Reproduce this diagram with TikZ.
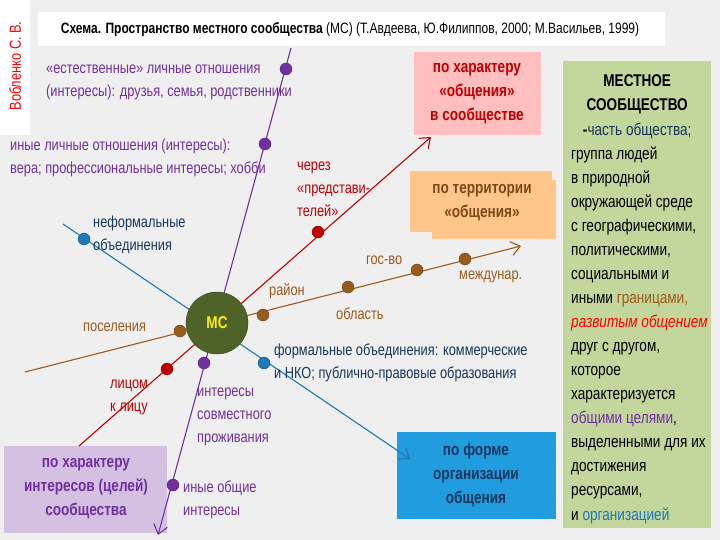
\documentclass[tikz,border=0pt]{standalone}
\usepackage{fontspec}
\setmainfont{Liberation Sans}[FakeStretch=0.8]
\usetikzlibrary{arrows.meta}
\definecolor{bg}{HTML}{EFEFEF}
\definecolor{pur}{HTML}{7030A0}
\definecolor{rd}{HTML}{C00000}
\definecolor{br}{HTML}{9A5B1E}
\definecolor{bl}{HTML}{1F78B4}
\definecolor{dbl}{HTML}{17375E}
\definecolor{olive}{HTML}{4F6228}
\definecolor{grn}{HTML}{C3D69B}
\begin{document}
\begin{tikzpicture}[x=1pt,y=-1pt,
 dot/.style={circle,minimum size=12pt,inner sep=0pt,draw=#1!70!black,fill=#1},
 lbl/.style={font=\fontsize{16}{23}\selectfont,align=left,inner sep=0pt,anchor=base west},
 box/.style={minimum width=#1,align=center,inner sep=2pt,font=\bfseries\fontsize{17}{24}\selectfont},
 ar/.style={-{Straight Barb[length=9pt,width=14pt]},line width=1.1pt}]
\fill[bg] (0,0) rectangle (720,540);
\useasboundingbox (0,0) rectangle (720,540);
\fill[white] (0,0) rectangle (30,135);
\node[rotate=90,text=red,font=\fontsize{16}{18}\selectfont] (author) at (15,66) {Вобленко С. В.};
\fill[white] (38,12) rectangle (665,46);
\node[font=\fontsize{15}{18}\selectfont] (title) at (350,30) {\textbf{Схема. Пространство местного сообщества} (МС) (Т.Авдеева, Ю.Филиппов, 2000; М.Васильев, 1999)};
% boxes
\fill[red!25!white] (414,52) rectangle (541,135);
\node[box=120pt,text=rd] (b1) at (477,94) {по характеру\\«общения»\\в сообществе};
\fill[orange!45!white] (432,180) rectangle (556,239);
\fill[orange!45!white] (410,171) rectangle (552,232);
\node[box=140pt,text=br!80!black] (b2) at (482,203) {по территории\\«общения»};
\fill[cyan!80!blue!90!white] (397,432) rectangle (556,519);
\node[box=150pt,text=dbl] (b3) at (476,475) {по форме\\организации\\общения};
\fill[pur!30!white] (4,446) rectangle (167,533);
\node[box=155pt,text=pur] (b4) at (86,489) {по характеру\\интересов (целей)\\сообщества};
\fill[grn] (563,61) rectangle (711,528);
\node[anchor=base west,align=left,font=\fontsize{17}{24.06}\selectfont,inner sep=0pt] (green) at (571,520) {%
\makebox[132pt]{\textbf{МЕСТНОЕ}}\\
\makebox[132pt]{\textbf{СООБЩЕСТВО}}\\
\makebox[132pt]{\textbf{-}\textcolor{dbl}{часть общества;}}\\
группа людей\\
в природной\\
окружающей среде\\
с географическими,\\
политическими,\\
социальными и\\
иными \textcolor{br}{границами,}\\
\textcolor{red}{\itshape развитым общением}\\
друг с другом,\\
которое\\
характеризуется\\
\textcolor{pur}{общими целями},\\
выделенными для их\\
достижения\\
ресурсами,\\
и \textcolor{bl}{организацией}};
% lines
\coordinate (pS) at (291,48); \coordinate (pE) at (158,535);
\coordinate (rS) at (79,446); \coordinate (rE) at (431,137);
\coordinate (bS) at (25,372); \coordinate (bE) at (521,246);
\coordinate (lS) at (63,224); \coordinate (lE) at (410,459);
\draw[pur,ar] (pS) -- (pE);
\draw[rd,ar] (rS) -- (rE);
\draw[br,ar] (bS) -- (bE);
\draw[bl,ar] (lS) -- (lE);
\node[circle,minimum size=62pt,fill=olive,draw=olive!70!black,text=yellow,font=\bfseries\fontsize{17}{18}\selectfont] (mc) at (217,323) {МС};
% dots
\node[dot=pur] (p1) at (286,69) {};
\node[dot=pur] (p2) at (265,144) {};
\node[dot=pur] (p3) at (204,363) {};
\node[dot=pur] (p4) at (173,485) {};
\node[dot=rd] (r1) at (318,232) {};
\node[dot=rd] (r2) at (167,369) {};
\node[dot=br] (d1) at (180,331) {};
\node[dot=br] (d2) at (263,315) {};
\node[dot=br] (d3) at (348,287) {};
\node[dot=br] (d4) at (417,270) {};
\node[dot=br] (d5) at (465,259) {};
\node[dot=bl] (l1) at (84,239) {};
\node[dot=bl] (l2) at (264,363) {};
% labels
\node[lbl,text=pur] (t1) at (46,97) {«естественные» личные отношения\\(интересы): друзья, семья, родственники};
\node[lbl,text=pur] (t2) at (10,174) {иные личные отношения (интересы):\\вера; профессиональные интересы; хобби};
\node[lbl,text=rd] (t3) at (297,217) {через\\«представи-\\телей»};
\node[lbl,text=dbl] (t4) at (93,251) {неформальные\\объединения};
\node[lbl,text=br] (t5) at (366,264) {гос-во};
\node[lbl,text=br] (t6) at (459,279) {междунар.};
\node[lbl,text=br] (t7) at (269,295) {район};
\node[lbl,text=br] (t8) at (336,319) {область};
\node[lbl,text=br] (t9) at (83,331) {поселения};
\node[lbl,text=dbl] (t10) at (274,378) {формальные объединения: коммерческие\\и НКО; публично-правовые образования};
\node[lbl,text=rd] (t11) at (110,411) {лицом\\к лицу};
\node[lbl,text=pur] (t12) at (197,442) {интересы\\совместного\\проживания};
\node[lbl,text=pur] (t13) at (183,515) {иные общие\\интересы};
\end{tikzpicture}
\end{document}
